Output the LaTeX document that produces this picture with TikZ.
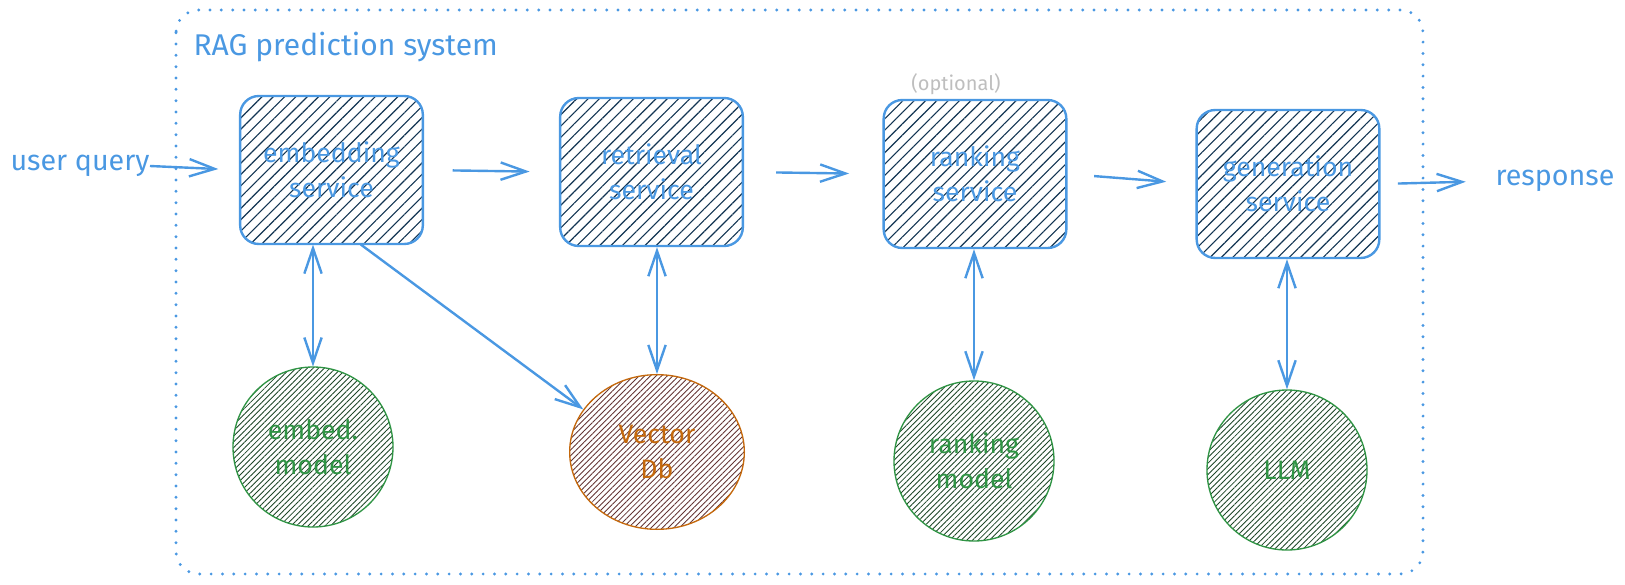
\documentclass[tikz,border=0pt]{standalone}
\usepackage{fontspec}
\setmainfont{Fira Sans}
\usetikzlibrary{arrows.meta,patterns.meta,shapes.geometric}

\definecolor{skblue}{RGB}{74,152,226}
\definecolor{hatchnavy}{RGB}{18,52,82}
\definecolor{skgreen}{RGB}{47,148,68}
\definecolor{hatchgreen}{RGB}{30,70,40}
\definecolor{skorange}{RGB}{196,104,12}
\definecolor{hatchbrown}{RGB}{100,52,52}
\definecolor{optgray}{RGB}{190,190,190}

\tikzset{every picture/.style={line width=0.75pt}}
\tikzset{
    service/.style={draw=skblue, line width=1.8pt, rounded corners=14pt, minimum width=137pt, minimum height=111pt, pattern={Lines[angle=45,distance=6pt,line width=0.85pt]}, pattern color=hatchnavy, align=center, text=skblue, font=\fontsize{20}{26}\selectfont},
    model/.style={circle, draw=skgreen, line width=1pt, minimum size=120pt, pattern={Lines[angle=45,distance=3pt,line width=0.65pt]}, pattern color=hatchgreen, align=center, text=skgreen, font=\fontsize{20}{26}\selectfont},
    store/.style={ellipse, draw=skorange, line width=1pt, minimum width=131pt, minimum height=116pt, pattern={Lines[angle=45,distance=3pt,line width=0.65pt]}, pattern color=hatchbrown, align=center, text=skorange, font=\fontsize{20}{26}\selectfont},
    lbl/.style={text=skblue, inner sep=0pt, font=\fontsize{21.5}{26}\selectfont},
    flow/.style={draw=skblue, line width=1.8pt, -{Straight Barb[length=19pt,width=13pt]}},
    link/.style={flow, {Straight Barb[length=19pt,width=13pt]}-{Straight Barb[length=19pt,width=13pt]}}
}

\begin{document}
\begin{tikzpicture}[x=0.75pt,y=0.75pt,yscale=-1,xscale=1]
    \useasboundingbox (0,0) rectangle (1625,585);

    %Shape: Rounded Rect [id:system frame]
    \draw [skblue, line width=2.4pt, line cap=round, dash pattern=on 0pt off 8.5pt, rounded corners=17pt] (176,10) rectangle (1423,574);
    % Text Node
    \node [lbl, anchor=west, font=\fontsize{22.5}{26}\selectfont] (title) at (193,47) {RAG prediction system};

    %Shape: Services
    \node [service] (emb) at (331.5,170) {embedding\\service};
    \node [service] (ret) at (651.5,172) {retrieval\\service};
    \node [service] (rnk) at (975,174) {ranking\\service};
    \node [service] (gen) at (1288,184) {generation\\service};
    % Text Node
    \node [text=optgray, font=\fontsize{15}{17}\selectfont] (opt) at (956,84) {(optional)};

    %Shape: Models
    \node [model] (embm) at (313,447) {embed.\\model};
    \node [store] (vdb) at (657,452) {Vector\\Db};
    \node [model] (rnkm) at (974,461) {ranking\\model};
    \node [model] (llm) at (1287,470) {LLM};

    % Text Node
    \node [lbl] (uq) at (80,166) {user query};
    % Text Node
    \node [lbl] (resp) at (1555,181) {response};

    %Straight Lines
    \draw [flow, shorten >=16pt] (uq.east) -- (emb.west);
    \draw [flow, shorten <=22pt, shorten >=22pt] (emb.east) -- (ret.west);
    \draw [flow, shorten <=24pt, shorten >=25pt] (ret.east) -- (rnk.west);
    \draw [flow, shorten <=20pt, shorten >=22pt] (rnk.east) -- (gen.west);
    \draw [flow, shorten <=13pt, shorten >=22pt] (gen.east) -- (resp.west);

    %Straight Lines
    \draw [link] (embm.north |- emb.south) -- (embm.north);
    \draw [link] (vdb.north |- ret.south) -- (vdb.north);
    \draw [link] (rnkm.north |- rnk.south) -- (rnkm.north);
    \draw [link] (llm.north |- gen.south) -- (llm.north);
    \draw [flow] ([xshift=22pt]emb.south) -- (vdb.150);
\end{tikzpicture}
\end{document}
